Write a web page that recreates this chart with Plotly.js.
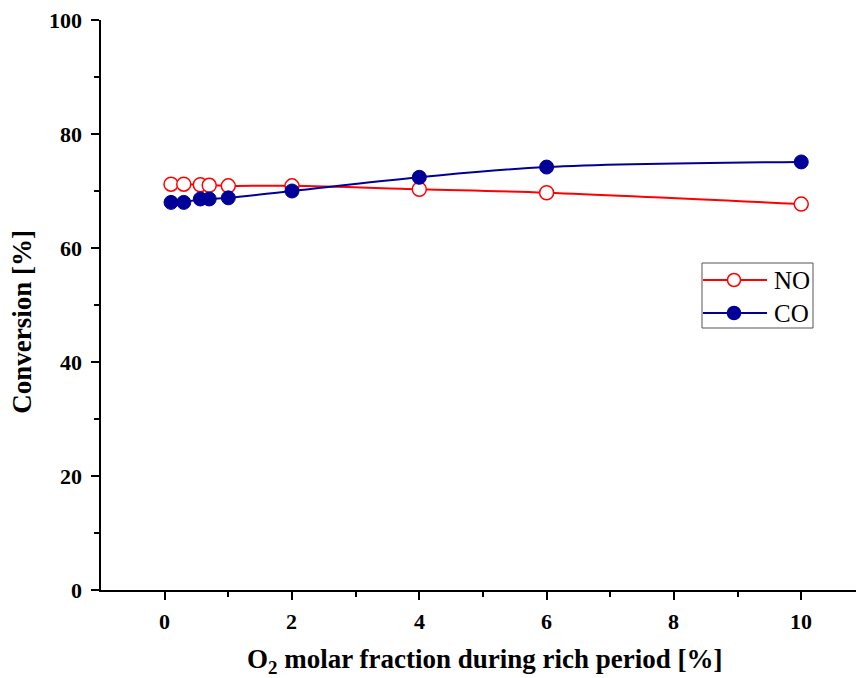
<!DOCTYPE html>
<html><head><meta charset="utf-8">
<script src="https://cdn.plot.ly/plotly-3.0.1.min.js"></script>
<style>html,body{margin:0;padding:0;background:#fff;overflow:hidden}</style>
</head><body><div id="chart" style="width:856px;height:678px"></div>
<script>
const o2Fraction = [0.1, 0.3, 0.56, 0.7, 1, 2, 4, 6, 10];
const noConversion = [71.2, 71.2, 71.1, 71.0, 70.9, 70.9, 70.3, 69.7, 67.7];
const coConversion = [68.0, 68.0, 68.6, 68.6, 68.8, 70.0, 72.4, 74.2, 75.1];
const seriesNames = ['NO', 'CO'];
const xTicks = [0, 2, 4, 6, 8, 10];
const yTicks = [0, 20, 40, 60, 80, 100];
const xMinorTicks = [1, 3, 5, 7, 9];
const yMinorTicks = [10, 30, 50, 70, 90];
const xTitle = 'O<sub>2</sub> molar fraction during rich period [%]';
const yTitle = 'Conversion [%]';

const red = '#ff0000', navy = '#000099';
const traces = [
  {x: o2Fraction, y: noConversion, name: seriesNames[0], mode: 'lines+markers', type: 'scatter',
   line: {color: red, width: 2, shape: 'spline'},
   marker: {symbol: 'circle', size: 14, color: '#ffffff', line: {color: red, width: 1.5}}},
  {x: o2Fraction, y: coConversion, name: seriesNames[1], mode: 'lines+markers', type: 'scatter',
   line: {color: navy, width: 2, shape: 'spline'},
   marker: {symbol: 'circle', size: 14, color: navy, line: {color: navy, width: 1}}}
];

// plot area in pixels: left 101, right 856, top 20, bottom 590
const px = v => (v - 101) / 755;
const py = v => (590 - v) / 570;
const font = 'Liberation Serif, Times New Roman, serif';

const legendRows = [{y: 280, color: red, fill: '#ffffff'}, {y: 313, color: navy, fill: navy}];
const shapes = [{type: 'rect', xref: 'paper', yref: 'paper', x0: px(702), x1: px(813), y0: py(263), y1: py(328),
  line: {color: '#555', width: 1}, fillcolor: '#fff', layer: 'above'}];
const annotations = [];
legendRows.forEach((r, i) => {
  shapes.push({type: 'line', xref: 'paper', yref: 'paper', x0: px(703), x1: px(767), y0: py(r.y), y1: py(r.y),
    line: {color: r.color, width: 2}, layer: 'above'});
  shapes.push({type: 'circle', xref: 'paper', yref: 'paper', xsizemode: 'pixel', ysizemode: 'pixel',
    xanchor: px(734), yanchor: py(r.y), x0: -6.5, x1: 6.5, y0: -6.5, y1: 6.5,
    line: {color: r.color, width: 1.5}, fillcolor: r.fill, layer: 'above'});
  annotations.push({text: seriesNames[i], xref: 'paper', yref: 'paper', x: px(772), y: py(r.y),
    xanchor: 'left', yanchor: 'middle', showarrow: false, font: {family: font, size: 25, color: '#000'}});
});

const tickFont = {family: font, size: 22, color: '#000'};
xTicks.forEach(v => annotations.push({text: '<b>' + v + '</b>', xref: 'x', yref: 'paper', x: v, y: py(621),
  xanchor: 'center', yanchor: 'middle', showarrow: false, font: tickFont}));
yTicks.forEach(v => annotations.push({text: '<b>' + v + '</b>', xref: 'paper', yref: 'y', x: px(84), y: v,
  xanchor: 'right', yanchor: 'middle', showarrow: false, font: tickFont}));

annotations.push(
  {text: '<b>' + xTitle + '</b>', xref: 'paper', yref: 'paper', x: 0.508, y: -0.125,
   xanchor: 'center', yanchor: 'middle', showarrow: false,
   font: {family: font, size: 27, color: '#000'}},
  {text: '<b>' + yTitle + '</b>', xref: 'paper', yref: 'paper', x: -0.105, y: 0.47,
   xanchor: 'center', yanchor: 'middle', textangle: -90, showarrow: false,
   font: {family: font, size: 27, color: '#000'}}
);

const layout = {
  width: 856, height: 678,
  font: {family: font, size: 21, color: '#000'},
  margin: {l: 101, r: 0, t: 20, b: 88},
  paper_bgcolor: '#fff', plot_bgcolor: '#fff',
  showlegend: false,
  xaxis: {range: [-1, 10.86], tickmode: 'array', tickvals: xTicks, showticklabels: false,
    showgrid: false, zeroline: false, showline: true, linecolor: '#000', linewidth: 2,
    ticks: 'outside', ticklen: 8, tickwidth: 2, tickcolor: '#000',
    minor: {tickmode: 'array', tickvals: xMinorTicks, ticks: 'outside', ticklen: 5, tickwidth: 2, tickcolor: '#000', showgrid: false}},
  yaxis: {range: [0, 100], tickmode: 'array', tickvals: yTicks, showticklabels: false,
    showgrid: false, zeroline: false, showline: true, linecolor: '#000', linewidth: 2,
    ticks: 'outside', ticklen: 8, tickwidth: 2, tickcolor: '#000',
    minor: {tickmode: 'array', tickvals: yMinorTicks, ticks: 'outside', ticklen: 5, tickwidth: 2, tickcolor: '#000', showgrid: false}},
  shapes: shapes,
  annotations: annotations
};
Plotly.newPlot('chart', traces, layout, {displayModeBar: false, staticPlot: true});
</script></body></html>
